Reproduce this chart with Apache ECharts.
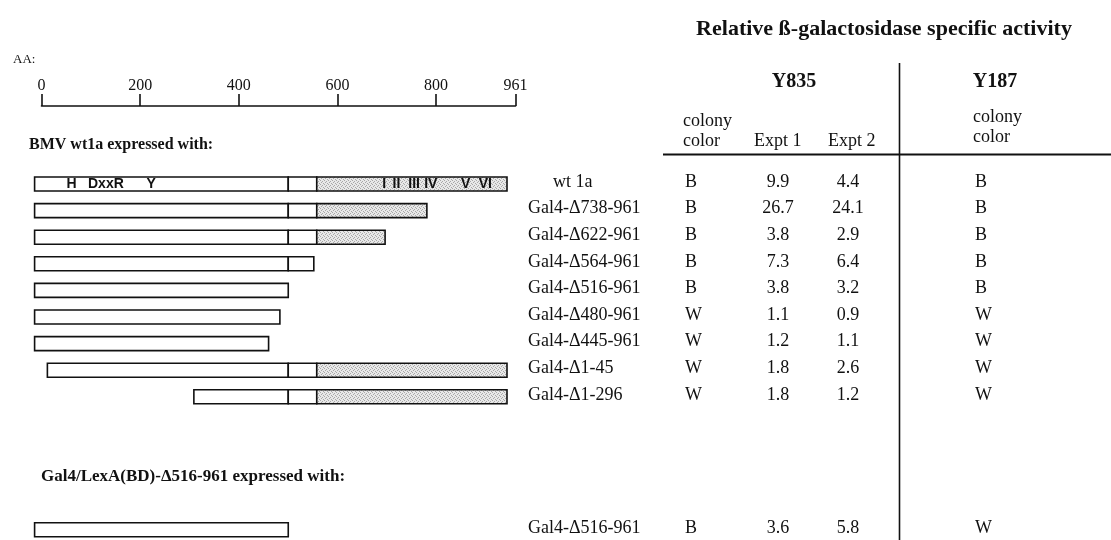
<!DOCTYPE html>
<html><head><meta charset="utf-8">
<script src="https://cdn.jsdelivr.net/npm/echarts@6/dist/echarts.min.js"></script>
<style>html,body{margin:0;padding:0;background:#fff}#c{width:1111px;height:540px}</style>
</head><body><div id="c"></div>
<script>
// ---- data ----
const rulerTicks = [0, 200, 400, 600, 800, 961];
const constructNames = ['wt 1a','Gal4-Δ738-961','Gal4-Δ622-961','Gal4-Δ564-961','Gal4-Δ516-961','Gal4-Δ480-961','Gal4-Δ445-961','Gal4-Δ1-45','Gal4-Δ1-296','Gal4-Δ516-961'];
const rowIndex = [0,1,2,3,4,5,6,7,8,13];
const barStart = [0,0,0,0,0,0,0,26,324,0];
const barEnd = [961,798,713,568,516,499,476,961,961,516];
const segmentBreaks = [516, 574];
const y835Color = ['B','B','B','B','B','W','W','W','W','B'];
const y835Expt1 = [9.9,26.7,3.8,7.3,3.8,1.1,1.2,1.8,1.8,3.6];
const y835Expt2 = [4.4,24.1,2.9,6.4,3.2,0.9,1.1,2.6,1.2,5.8];
const y187Color = ['B','B','B','B','B','W','W','W','W','W'];
const motifLabels = ['H','DxxR','Y','I','II','III','IV','V','VI'];
const motifPos = [75,145,237,711,736,772,806,877,917];

const SERIF = "'Liberation Serif','Times New Roman',serif";
const SANS = "'Liberation Sans',Arial,sans-serif";
const INK = '#111';

// stipple pattern for the shaded domain
const pc = document.createElement('canvas'); pc.width = 4; pc.height = 4;
const g = pc.getContext('2d');
g.fillStyle = '#e8e8e8'; g.fillRect(0,0,4,4);
g.fillStyle = '#a8a8a8'; [[0,0],[2,1],[1,2],[3,3]].forEach(p => g.fillRect(p[0],p[1],1,1));
const stipple = {image: pc, repeat: 'repeat'};

const chart = echarts.init(document.getElementById('c'), null, {renderer:'canvas'});

function txt(x, y, s, font, align) {
  return {type:'text', x:x, y:y, style:{text:s, font:font, fill:INK, align:align||'left', verticalAlign:'middle'}};
}

const ROW0 = 184, ROWSTEP = 26.6, LASTROW = 13;

const option = {
  backgroundColor: '#fff',
  animation: false,
  grid: [
    {left: 41.5, width: 474, top: 105, height: 1},
    {left: 34.6, width: 472.4, top: ROW0 - ROWSTEP / 2, height: ROWSTEP * (LASTROW + 0.5)}
  ],
  xAxis: [
    {gridIndex:0, type:'value', position:'top', min:0, max:961,
     axisLine:{show:true, lineStyle:{color:INK, width:1.6}},
     axisTick:{show:true, inside:false, length:12, customValues:rulerTicks, lineStyle:{color:INK, width:1.6}},
     axisLabel:{show:true, customValues:rulerTicks, margin:11, fontFamily:SERIF, fontSize:16, color:INK},
     splitLine:{show:false}},
    {gridIndex:1, type:'value', min:0, max:961, show:false}
  ],
  yAxis: [
    {gridIndex:0, type:'value', show:false, min:0, max:1},
    {gridIndex:1, type:'value', show:false, inverse:true, min:-0.5, max:LASTROW}
  ],
  graphic: [
    txt(884, 29, 'Relative ß-galactosidase specific activity', 'bold 22px ' + SERIF, 'center'),
    txt(13, 60, 'AA:', '13px ' + SERIF),
    txt(29, 145, 'BMV wt1a expressed with:', 'bold 16px ' + SERIF),
    txt(41, 477, 'Gal4/LexA(BD)-Δ516-961 expressed with:', 'bold 17px ' + SERIF),
    txt(794, 82, 'Y835', 'bold 20px ' + SERIF, 'center'),
    txt(995, 82, 'Y187', 'bold 20px ' + SERIF, 'center'),
    txt(683, 121, 'colony', '18px ' + SERIF),
    txt(683, 141, 'color', '18px ' + SERIF),
    txt(754, 141, 'Expt 1', '18px ' + SERIF),
    txt(828, 141, 'Expt 2', '18px ' + SERIF),
    txt(973, 117, 'colony', '18px ' + SERIF),
    txt(973, 137, 'color', '18px ' + SERIF),
    {type:'line', shape:{x1:899.5, y1:63, x2:899.5, y2:540}, style:{stroke:INK, lineWidth:1.6}},
    {type:'line', shape:{x1:663, y1:154.5, x2:1111, y2:154.5}, style:{stroke:INK, lineWidth:1.8}}
  ],
  series: [
    {
      type:'custom', name:'constructs', xAxisIndex:1, yAxisIndex:1, clip:false,
      data: rowIndex.map((r,i) => [barStart[i], barEnd[i], r]),
      encode:{x:[0,1], y:2},
      renderItem(params, api) {
        const s = api.value(0), e = api.value(1), row = api.value(2);
        const h = 14;
        const yc = api.coord([0,row])[1];
        const bounds = [s].concat(segmentBreaks.filter(b => b > s && b < e), [e]);
        const kids = [];
        for (let i = 0; i < bounds.length - 1; i++) {
          const x0 = api.coord([bounds[i],row])[0], x1 = api.coord([bounds[i+1],row])[0];
          const grey = bounds[i] >= segmentBreaks[1];
          kids.push({type:'rect', shape:{x:x0, y:yc-h/2, width:x1-x0, height:h},
            style:{fill: grey ? stipple : '#fff', stroke:INK, lineWidth:1.6}});
        }
        return {type:'group', children:kids};
      }
    },
    {
      type:'custom', name:'motifs', xAxisIndex:1, yAxisIndex:1, z:5, clip:false,
      data: motifPos.map((p,i) => [p, 0]),
      encode:{x:0, y:1},
      renderItem(params, api) {
        const pt = api.coord([api.value(0), api.value(1)]);
        return {type:'text', x:pt[0], y:pt[1]+0.5,
          style:{text: motifLabels[params.dataIndex], font:'bold 14px ' + SANS, fill:INK, align:'center', verticalAlign:'middle'}};
      }
    },
    {
      type:'custom', name:'table', xAxisIndex:1, yAxisIndex:1, clip:false,
      data: rowIndex.map(r => [0, r]),
      encode:{x:0, y:1},
      renderItem(params, api) {
        const i = params.dataIndex;
        const y = api.coord([0, api.value(1)])[1] - 2;
        const f = '18px ' + SERIF;
        const name = constructNames[i];
        const nx = name.indexOf('Gal4') === 0 ? 528 : 553;
        return {type:'group', children:[
          txt(nx, y, name, f),
          txt(685, y, y835Color[i], f),
          txt(778, y, y835Expt1[i].toFixed(1), f, 'center'),
          txt(848, y, y835Expt2[i].toFixed(1), f, 'center'),
          txt(975, y, y187Color[i], f)
        ]};
      }
    }
  ]
};
chart.setOption(option);
</script>
</body></html>
